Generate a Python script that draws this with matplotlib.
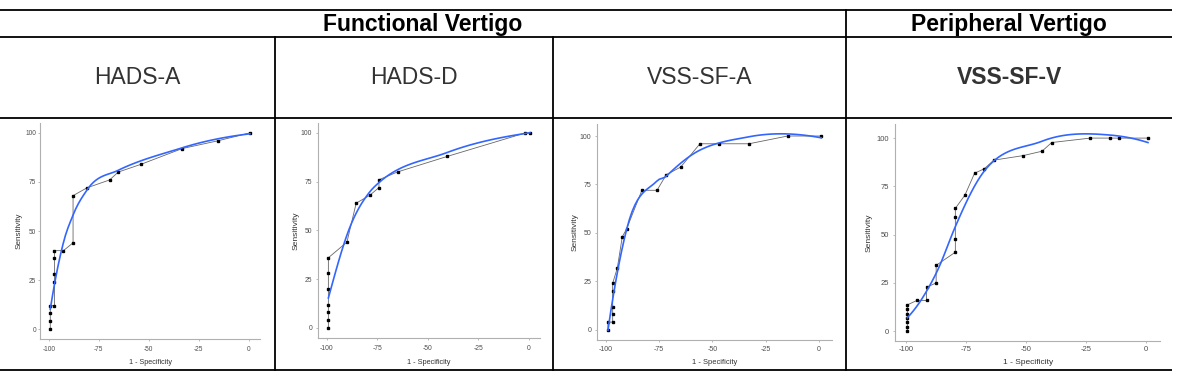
import numpy as np
import matplotlib
matplotlib.use("Agg")
import matplotlib.pyplot as plt

plt.rcParams['font.family'] = ['Liberation Sans', 'DejaVu Sans']
plt.rcParams['axes.unicode_minus'] = False

W, H, DPI = 1177, 375, 100

# ---------------- data ----------------
group_titles = ["Functional Vertigo", "Peripheral Vertigo"]
panel_titles = ["HADS-A", "HADS-D", "VSS-SF-A", "VSS-SF-V"]
x_ticks = [-100, -75, -50, -25, 0]
y_ticks = [0, 25, 50, 75, 100]
x_title = "1 - Specificity"
y_title = "Sensitivity"

hads_a_x = [-99.3, -99.3, -99.3, -99.3, -97.2, -97.2, -97.2, -97.2, -97.2, -92.7,
            -87.9, -87.9, -80.9, -69.6, -65.3, -53.8, -33.2, -15.1, 0.7]
hads_a_y = [0, 4, 8, 12, 12, 24, 28, 36, 40, 40,
            44, 68, 72, 76, 80, 84, 92, 96, 100]

hads_d_x = [-99.3, -99.3, -99.3, -99.3, -99.3, -99.3, -99.3, -90.1, -85.5, -78.8,
            -74.2, -74.2, -65.0, -40.2, -1.6, 0.7]
hads_d_y = [0, 4, 8, 12, 20, 28, 36, 44, 64, 68,
            72, 76, 80, 88, 100, 100]

vss_a_x = [-98.9, -98.9, -96.7, -96.7, -96.7, -96.7, -96.7, -94.5, -92.2, -90.2,
           -83.0, -75.9, -71.6, -64.8, -55.8, -46.7, -32.8, -14.7, 1.1]
vss_a_y = [0, 4, 4, 8, 12, 20, 24, 32, 48, 52,
           72, 72, 80, 84, 96, 96, 96, 100, 100]

vss_v_x = [-99.4, -99.4, -99.4, -99.4, -99.4, -99.4, -99.4, -95.4, -91.4, -91.4,
           -87.4, -87.4, -79.4, -79.4, -79.4, -79.4, -75.4, -71.4, -67.4, -63.3,
           -51.3, -43.3, -39.3, -23.2, -15.2, -11.2, 0.8]
vss_v_y = [0, 2.3, 4.5, 6.8, 9.1, 11.4, 13.6, 15.9, 15.9, 22.7,
           25.0, 34.1, 40.9, 47.7, 59.1, 63.6, 70.5, 81.8, 84.1, 88.6,
           90.9, 93.2, 97.7, 100, 100, 100, 100]

series_x = [hads_a_x, hads_d_x, vss_a_x, vss_v_x]
series_y = [hads_a_y, hads_d_y, vss_a_y, vss_v_y]


# ---------------- loess (R-style, kd-tree vertices + Hermite interpolation) ----------------
def local_fit(x, y, x0, q):
    n = len(x)
    d = np.abs(x - x0)
    h = np.sort(d)[q - 1]
    u = np.where(d < h, d / h, 1.0)
    w = (1 - u ** 3) ** 3
    X = np.vstack([np.ones(n), x - x0, (x - x0) ** 2]).T
    WX = X * w[:, None]
    beta = np.linalg.lstsq(WX.T @ X, WX.T @ y, rcond=None)[0]
    return beta[0], beta[1]


def loess_curve(x, y, xg, span=0.75, cell=0.2):
    x = np.asarray(x, float)
    y = np.asarray(y, float)
    n = len(x)
    q = int(np.floor(n * span))
    fc = int(np.floor(n * span * cell))
    xs = np.sort(x)
    mu = 0.005 * (xs[-1] - xs[0])
    verts = {xs[0] - mu, xs[-1] + mu}
    leaves = []

    def build(l, u, vlo, vhi):
        if (u - l + 1) <= fc:
            leaves.append((vlo, vhi))
            return
        m = (l + u) // 2
        offset = 0
        while (m + offset) < u and (m + offset) >= l:
            if xs[m + offset - 1] == xs[m + offset]:
                offset = -offset
                if offset >= 0:
                    offset += 1
            else:
                m = m + offset
                break
        t = xs[m - 1]
        if t == vlo or t == vhi:
            leaves.append((vlo, vhi))
            return
        verts.add(t)
        build(l, m, vlo, t)
        build(m + 1, u, t, vhi)

    build(1, n, xs[0] - mu, xs[-1] + mu)
    vv = {v: local_fit(x, y, v, q) for v in verts}
    leaves.sort()
    out = []
    for z in xg:
        for a, b in leaves:
            if a <= z <= b:
                break
        g0, s0 = vv[a]
        g1, s1 = vv[b]
        hh = b - a
        t = (z - a) / hh
        phi0 = (1 - t) ** 2 * (1 + 2 * t)
        phi1 = t ** 2 * (3 - 2 * t)
        psi0 = t * (1 - t) ** 2
        psi1 = -t ** 2 * (1 - t)
        out.append(phi0 * g0 + phi1 * g1 + (psi0 * s0 + psi1 * s1) * hh)
    return np.array(out)


fig = plt.figure(figsize=(W / DPI, H / DPI), dpi=DPI)
fig.patch.set_facecolor("white")

# table overlay
tab = fig.add_axes([0, 0, 1, 1])
tab.set_xlim(0, W)
tab.set_ylim(H, 0)
tab.axis("off")
lw_tab = 1.3
for yy in [9.5, 37, 118, 370]:
    tab.plot([0, 1172], [yy, yy], color="black", lw=lw_tab, solid_capstyle="butt")
tab.plot([275, 275], [37, 370], color="black", lw=lw_tab)
tab.plot([553, 553], [37, 370], color="black", lw=lw_tab)
tab.plot([846, 846], [9.5, 370], color="black", lw=lw_tab)

tab.text(423, 24, group_titles[0], ha="center", va="center", fontsize=16.5,
         fontweight="bold", color="black")
tab.text(1009, 24, group_titles[1], ha="center", va="center", fontsize=16.5,
         fontweight="bold", color="black")
cell_centers = [137.5, 414, 699.5, 1009]
for i, t in enumerate(panel_titles):
    tab.text(cell_centers[i], 78, t, ha="center", va="center", fontsize=16.5,
             fontweight="bold" if i == 3 else "normal", color="#333333")

# panel boxes (pixels: left, right, top, bottom)
boxes = [(40.3, 260, 123, 339), (318.3, 540, 123, 337.7),
         (597.3, 832, 124, 340), (895.3, 1160, 124, 341)]
tick_fs = [4.7, 4.9, 5.0, 5.5]
xlab_fs = [5.2, 5.3, 5.4, 6.0]
ylab_fs = [5.9, 6.1, 6.0, 6.1]
xpad = [3.3, 3.3, 3.0, 2.0]
ypad = [1.2, 2.8, 2.8, 2.8]
ylab_x = [19, 296, 574.7, 868.7]
xlab_y = 362

for i in range(4):
    l, r, t, b = boxes[i]
    ax = fig.add_axes([l / W, 1 - b / H, (r - l) / W, (b - t) / H])
    ax.patch.set_alpha(0)
    xs = np.asarray(series_x[i], float)
    ys = np.asarray(series_y[i], float)
    xg = np.linspace(xs.min(), xs.max(), 80)
    yg = loess_curve(xs, ys, xg)
    ax.plot(xs, ys, color="#666666", lw=0.6, zorder=2)
    ax.plot(xs, ys, ls="none", marker="s", ms=1.5, color="black", zorder=3)
    ax.plot(xg, yg, color="#3366FF", lw=1.2, zorder=4)
    xr = xs.max() - xs.min()
    ymin = min(ys.min(), yg.min())
    ymax = max(ys.max(), yg.max())
    yr = ymax - ymin
    ax.set_xlim(xs.min() - 0.05 * xr, xs.max() + 0.05 * xr)
    ax.set_ylim(ymin - 0.05 * yr, ymax + 0.05 * yr)
    ax.set_xticks(x_ticks)
    ax.set_yticks(y_ticks)
    for s in ["top", "right"]:
        ax.spines[s].set_visible(False)
    for s in ["left", "bottom"]:
        ax.spines[s].set_color("#b0b0b0")
        ax.spines[s].set_linewidth(0.8)
    ax.tick_params(length=1.6, width=0.6, color="#b0b0b0",
                   labelsize=tick_fs[i], labelcolor="#4d4d4d")
    ax.tick_params(axis="x", pad=xpad[i])
    ax.tick_params(axis="y", pad=ypad[i])
    ax.set_xlabel(x_title, fontsize=xlab_fs[i], color="#333333")
    ax.set_ylabel(y_title, fontsize=ylab_fs[i], color="#333333")
    ax.xaxis.set_label_coords(((l + r) / 2) / W, 1 - xlab_y / H, transform=fig.transFigure)
    ax.xaxis.label.set_va("center")
    ax.yaxis.set_label_coords(ylab_x[i] / W, 1 - ((t + b) / 2) / H, transform=fig.transFigure)
    ax.yaxis.label.set_va("center")

fig.savefig("out.png", dpi=DPI, facecolor="white")
